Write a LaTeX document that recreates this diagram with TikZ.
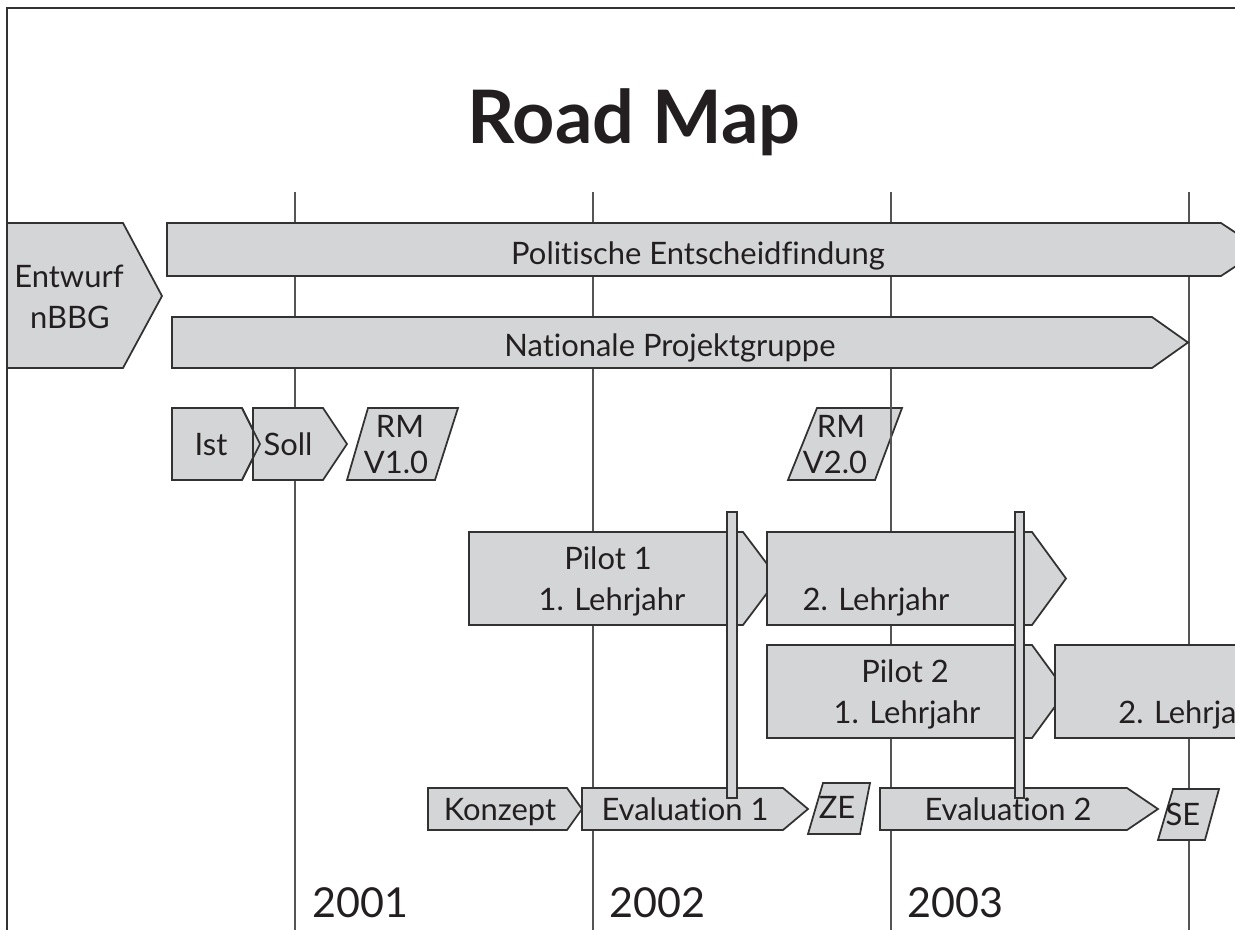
\documentclass[tikz,border=0pt]{standalone}
\usepackage{fontspec}
\setmainfont{Lato}[Ligatures=NoCommon]
\definecolor{boxfill}{RGB}{212,213,215}
\definecolor{boxline}{RGB}{50,50,50}
\definecolor{gridline}{RGB}{85,85,85}
\definecolor{txt}{RGB}{35,31,32}
\begin{document}
\begin{tikzpicture}[x=0.02cm,y=-0.02cm]
\tikzstyle{bar}=[fill=boxfill,draw=boxline,line width=1pt,line join=miter]
\tikzstyle{gridln}=[draw=gridline,line width=1.1pt]
\tikzstyle{boxtxt}=[anchor=base,inner sep=0pt,text=txt,font=\fontsize{17.6}{21}\selectfont]
\tikzstyle{yeartxt}=[anchor=base west,inner sep=0pt,text=txt,font=\fontsize{23.5}{28}\selectfont]
\tikzstyle{milestone}=[fill=boxfill,draw=boxline,line width=0.8pt]
\useasboundingbox (0,0) rectangle (1235,930);
\clip (0,0) rectangle (1235,930);
% frame
\draw [boxline,line width=1.4pt] (7,940) -- (7,8) -- (1245,8);
\node [anchor=base,inner sep=0pt,text=txt,font=\fontsize{42}{50}\selectfont\bfseries] (title) at (634,143) {Road Map};
% RM V2.0 lies under the year line
\draw [bar] (817,408) -- (902,408) -- (875,480) -- (788,480) -- cycle;
% year lines
\foreach \x in {295,593,891,1189}
  \draw [gridln] (\x,192) -- (\x,940);
% top rows
\draw [bar] (7,223) -- (123,223) -- (162,296) -- (123,368) -- (7,368) -- cycle;
\draw [bar] (167,223) -- (1221,223) -- (1261,249.5) -- (1221,276) -- (167,276) -- cycle;
\draw [bar] (172,317) -- (1152,317) -- (1188,342.5) -- (1152,368) -- (172,368) -- cycle;
% Ist / Soll / RM V1.0
\draw [bar] (172,408) -- (242,408) -- (260,444) -- (242,480) -- (172,480) -- cycle;
\draw [bar] (253,408) -- (323,408) -- (347,444) -- (323,480) -- (253,480) -- cycle;
\draw [boxline,line width=1pt] (242,408) -- (260,444) -- (242,480);
\draw [bar] (368,408) -- (458,408) -- (435,480) -- (347,480) -- cycle;
% Pilot 1
\draw [bar] (469,532) -- (743,532) -- (778,578.5) -- (743,625) -- (469,625) -- cycle;
\draw [bar] (767,532) -- (1032,532) -- (1066,578.5) -- (1032,625) -- (767,625) -- cycle;
% Pilot 2
\draw [bar] (767,645) -- (1032,645) -- (1066,691.5) -- (1032,738) -- (767,738) -- cycle;
\draw [bar] (1055,645) -- (1300,645) -- (1300,738) -- (1055,738) -- cycle;
% evaluation row
\draw [bar] (428,788) -- (567,788) -- (582,809) -- (567,830) -- (428,830) -- cycle;
\draw [bar] (582,788) -- (783,788) -- (808,809) -- (783,830) -- (582,830) -- cycle;
\draw [bar] (823,783) -- (870,783) -- (860,834) -- (808,834) -- cycle;
\draw [bar] (880,788) -- (1127,788) -- (1158,809) -- (1127,830) -- (880,830) -- cycle;
\draw [bar] (1173,789) -- (1219,789) -- (1205,840) -- (1158,840) -- cycle;
% milestones
\draw [milestone] (727,512) rectangle (737,798);
\draw [milestone] (1015,512) rectangle (1024,798);
% texts
\node [boxtxt] (entw) at (69,287) {Entwurf};
\node [boxtxt] (nbbg) at (70,328) {nBBG};
\node [boxtxt] (polit) at (698,264) {Politische Entscheidfindung};
\node [boxtxt] (natpg) at (670,356) {Nationale Projektgruppe};
\node [boxtxt] (ist) at (211,455) {Ist};
\node [boxtxt] (soll) at (288,455) {Soll};
\node [boxtxt] (rma) at (400,437) {RM};
\node [boxtxt] (rmav) at (396,473) {V1.0};
\node [boxtxt] (rmb) at (841,437) {RM};
\node [boxtxt] (rmbv) at (835,473) {V2.0};
\node [boxtxt] (pa) at (608,569) {Pilot 1};
\node [boxtxt] (paa) at (612,610) {1. Lehrjahr};
\node [boxtxt] (pab) at (876,610) {2. Lehrjahr};
\node [boxtxt] (pb) at (905,682) {Pilot 2};
\node [boxtxt] (pba) at (907,723) {1. Lehrjahr};
\node [boxtxt,anchor=base west] (pbb) at (1118,723) {2. Lehrjahr};
\node [boxtxt] (konz) at (500,820) {Konzept};
\node [boxtxt] (evala) at (685,820) {Evaluation 1};
\node [boxtxt] (ze) at (837,818) {ZE};
\node [boxtxt] (evalb) at (1008,820) {Evaluation 2};
\node [boxtxt] (se) at (1183,825) {SE};
\node [yeartxt] (ya) at (312,917) {2001};
\node [yeartxt] (yb) at (609,917) {2002};
\node [yeartxt] (yc) at (907,917) {2003};
\end{tikzpicture}
\end{document}
